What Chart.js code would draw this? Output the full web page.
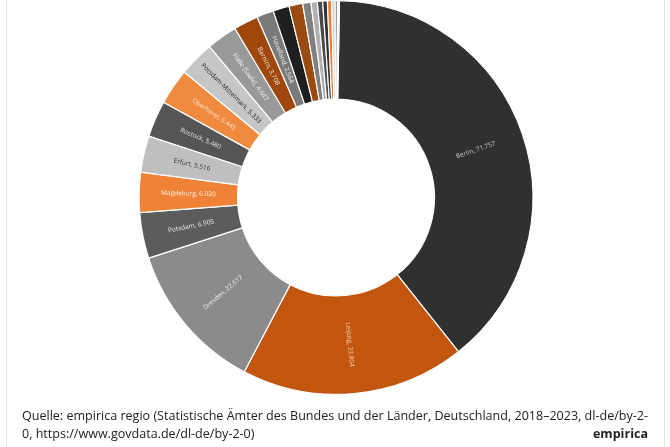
<!DOCTYPE html>
<html>
<head>
<meta charset="utf-8">
<script src="https://cdn.jsdelivr.net/npm/chart.js@4.4.1/dist/chart.umd.min.js"></script>
<style>
  html, body { margin: 0; padding: 0; background: #fff; }
  canvas { display: block; }
</style>
</head>
<body>
<canvas id="chart" width="670" height="447"></canvas>
<script>
// regions, sorted by value; the small slices carry no visible label
var regions = ['Berlin', 'Leipzig', 'Dresden', 'Potsdam', 'Magdeburg', 'Erfurt', 'Rostock',
    'Oberhavel', 'Potsdam-Mittelmark', 'Halle (Saale)', 'Barnim', 'Havelland',
    '', '', '', '', '', '', '', '', '', ''];
var values = [71757, 33804, 22617, 6905, 6020, 5516, 5480, 5445, 5333, 4647, 3708, 2564,
    2450, 2050, 1250, 950, 800, 700, 650, 500, 400, 250];
var sliceColors = ['#303030', '#c2560f', '#8b8b8b', '#5c5c5c', '#ef8236', '#bfbfbf', '#555555',
    '#ef8a3e', '#c6c6c6', '#999999', '#a0470e', '#7a7a7a',
    '#1f1f1f', '#9b4a10', '#808080', '#b0b0b0', '#4a4a4a', '#333333', '#ed7d31', '#d0d0d0', '#9a9a9a', '#e2e2e2'];
var labelColors = ['#c8c8c8', '#f6d3b6', '#eeeeee', '#e8e8e8', '#fff2e4', '#333333', '#e2e2e2',
    '#fde2cc', '#222222', '#f2f2f2', '#f6e2d2', '#eeeeee'];

function fmt(v) {
    return String(v).replace(/\B(?=(\d{3})+(?!\d))/g, '.');
}

var sliceLabels = {
    id: 'sliceLabels',
    afterDatasetsDraw: function(chart) {
        var ctx = chart.ctx;
        var arcs = chart.getDatasetMeta(0).data;
        ctx.save();
        ctx.font = '6.5px "Open Sans"';
        ctx.textAlign = 'center';
        ctx.textBaseline = 'middle';
        for (var i = 0; i < labelColors.length; i++) {
            var arc = arcs[i];
            var a = (arc.startAngle + arc.endAngle) / 2;
            var r = (arc.innerRadius + arc.outerRadius) / 2;
            var x = arc.x + r * Math.cos(a);
            var y = arc.y + r * Math.sin(a);
            var rot = Math.cos(a) < 0 ? a + Math.PI : a;
            ctx.save();
            ctx.translate(x, y);
            ctx.rotate(rot);
            ctx.fillStyle = labelColors[i];
            ctx.fillText(regions[i] + ', ' + fmt(values[i]), 0, 0);
            ctx.restore();
        }
        ctx.restore();
    }
};

var frame = {
    id: 'frame',
    beforeDraw: function(chart) {
        var ctx = chart.ctx;
        ctx.save();
        ctx.fillStyle = '#ffffff';
        ctx.fillRect(0, 0, chart.width, chart.height);
        ctx.strokeStyle = '#e2e2e2';
        ctx.lineWidth = 1;
        ctx.beginPath();
        ctx.moveTo(6.5, 0); ctx.lineTo(6.5, chart.height);
        ctx.moveTo(664.5, 0); ctx.lineTo(664.5, chart.height);
        ctx.stroke();
        ctx.restore();
    },
    afterDraw: function(chart) {
        var ctx = chart.ctx;
        var line1 = 'Quelle: empirica regio (Statistische \u00c4mter des Bundes und der L\u00e4nder, Deutschland, 2018\u20132023, dl-de/by-2-';
        var line2 = '0, https://www.govdata.de/dl-de/by-2-0)';
        ctx.save();
        ctx.fillStyle = '#222222';
        ctx.textBaseline = 'middle';
        ctx.font = '12.5px "Open Sans"';
        var sx = 626 / ctx.measureText(line1).width;
        ctx.save();
        ctx.translate(22, 416);
        ctx.scale(sx, 1);
        ctx.fillText(line1, 0, 0);
        ctx.fillText(line2, 0, 18);
        ctx.restore();
        ctx.font = 'bold 12.5px "Open Sans"';
        ctx.textAlign = 'right';
        ctx.save();
        ctx.translate(648, 434);
        ctx.scale(sx, 1);
        ctx.fillText('empirica', 0, 0);
        ctx.restore();
        ctx.restore();
    }
};

new Chart(document.getElementById('chart').getContext('2d'), {
    type: 'doughnut',
    data: {
        labels: regions,
        datasets: [{
            data: values,
            backgroundColor: sliceColors,
            borderColor: '#ffffff',
            borderWidth: 1.2
        }]
    },
    options: {
        responsive: false,
        animation: false,
        cutout: '50%',
        rotation: 1,
        layout: { padding: { top: 0, bottom: 52, left: 2, right: 0 } },
        plugins: {
            legend: { display: false },
            tooltip: { enabled: false }
        }
    },
    plugins: [frame, sliceLabels]
});
</script>
</body>
</html>
